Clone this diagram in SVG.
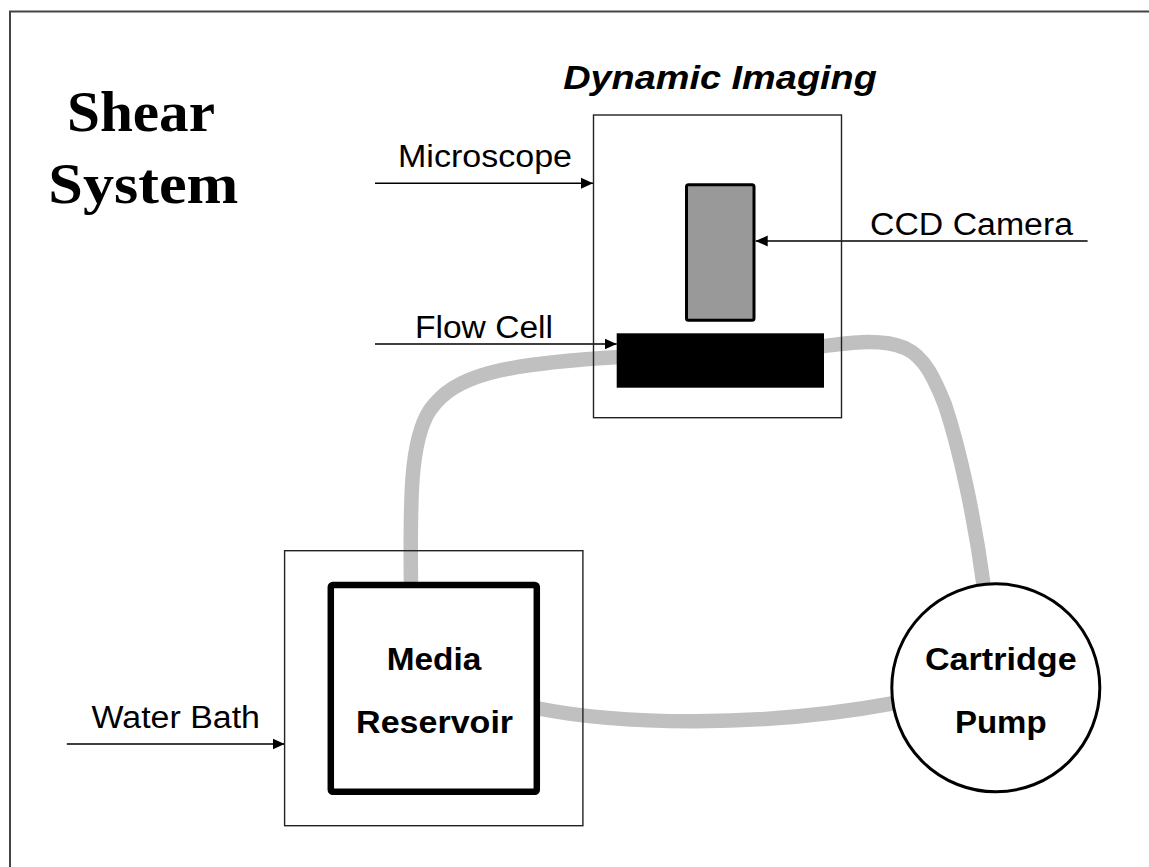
<svg xmlns="http://www.w3.org/2000/svg" width="1149" height="867" viewBox="0 0 1149 867">
<style>
.lbl{font-family:"Liberation Sans",Arial,sans-serif;font-size:31px;fill:#000}
.bold{font-family:"Liberation Sans",Arial,sans-serif;font-size:32px;font-weight:bold;fill:#000}
.title{font-family:"Liberation Serif","Times New Roman",serif;font-size:56px;font-weight:bold;fill:#000}
.tube{fill:none;stroke:#c0c0c0;stroke-width:14.5}
.arrow{stroke:#000;stroke-width:1.6;fill:none;marker-end:url(#ah)}
.thin{fill:none;stroke:#222;stroke-width:1.4}
</style>
<defs>
<marker id="ah" markerUnits="userSpaceOnUse" markerWidth="12" markerHeight="12" viewBox="0 0 11 10" refX="11" refY="5" orient="auto">
<path d="M0,0 L11,5 L0,10 Z" fill="#000"/>
</marker>
</defs>
<rect width="1149" height="867" fill="#fff"/>
<path d="M10,867 V11.5 H1149" fill="none" stroke="#444" stroke-width="2"/>
<g id="title">
<text class="title" x="141" y="131" text-anchor="middle" textLength="148" lengthAdjust="spacingAndGlyphs">Shear</text>
<text class="title" x="143.3" y="203" text-anchor="middle" textLength="190" lengthAdjust="spacingAndGlyphs">System</text>
</g>
<g id="connectors">
<path class="tube" d="M411,588 C410,500 410,440 430,410 C455,375 500,364 620,357 L824,346 C850,343 880,338 905,348 C925,357 935,380 945,405 C960,450 975,520 984,588"/>
<path class="tube" d="M536,708 C620,725 760,728 895,703"/>
<line class="arrow" x1="375" y1="183.3" x2="593" y2="183.3"/>
<line class="arrow" x1="375" y1="344" x2="616.7" y2="344"/>
<line class="arrow" x1="1087.6" y1="241" x2="755.7" y2="241"/>
<line class="arrow" x1="66.8" y1="744" x2="284.6" y2="744"/>
</g>
<g id="dynamic-imaging">
<text x="720" y="89.3" text-anchor="middle" font-family="'Liberation Sans',Arial,sans-serif" font-size="34" font-weight="bold" font-style="italic" textLength="313.7" lengthAdjust="spacingAndGlyphs">Dynamic Imaging</text>
<rect class="thin" x="593.5" y="115" width="248" height="302.7"/>
</g>
<g id="microscope">
<text class="lbl" x="398" y="166.7" textLength="174" lengthAdjust="spacingAndGlyphs">Microscope</text>
</g>
<g id="ccd-camera">
<rect x="686.5" y="184.8" width="67.5" height="135.4" rx="2" fill="#999" stroke="#000" stroke-width="3"/>
<text class="lbl" x="870" y="235" textLength="203" lengthAdjust="spacingAndGlyphs">CCD Camera</text>
</g>
<g id="flow-cell">
<rect x="616.7" y="333.3" width="207.3" height="54.4" fill="#000"/>
<text class="lbl" x="415" y="338" textLength="138" lengthAdjust="spacingAndGlyphs">Flow Cell</text>
</g>
<g id="water-bath">
<rect class="thin" x="284.6" y="550.7" width="298.3" height="275"/>
<text class="lbl" x="91.5" y="727.5" textLength="168.5" lengthAdjust="spacingAndGlyphs">Water Bath</text>
</g>
<g id="media-reservoir">
<rect x="330.8" y="585" width="206" height="206.8" rx="2" fill="#fff" stroke="#000" stroke-width="6.5" stroke-linejoin="round"/>
<text class="bold" x="434" y="670" text-anchor="middle" textLength="94.6" lengthAdjust="spacingAndGlyphs">Media</text>
<text class="bold" x="434.6" y="733.3" text-anchor="middle" textLength="157" lengthAdjust="spacingAndGlyphs">Reservoir</text>
</g>
<g id="cartridge-pump">
<circle cx="995.8" cy="687.8" r="104" fill="#fff" stroke="#000" stroke-width="3"/>
<text class="bold" x="1000.8" y="670" text-anchor="middle" textLength="151.7" lengthAdjust="spacingAndGlyphs">Cartridge</text>
<text class="bold" x="1000.8" y="733.3" text-anchor="middle" textLength="91.7" lengthAdjust="spacingAndGlyphs">Pump</text>
</g>
</svg>
